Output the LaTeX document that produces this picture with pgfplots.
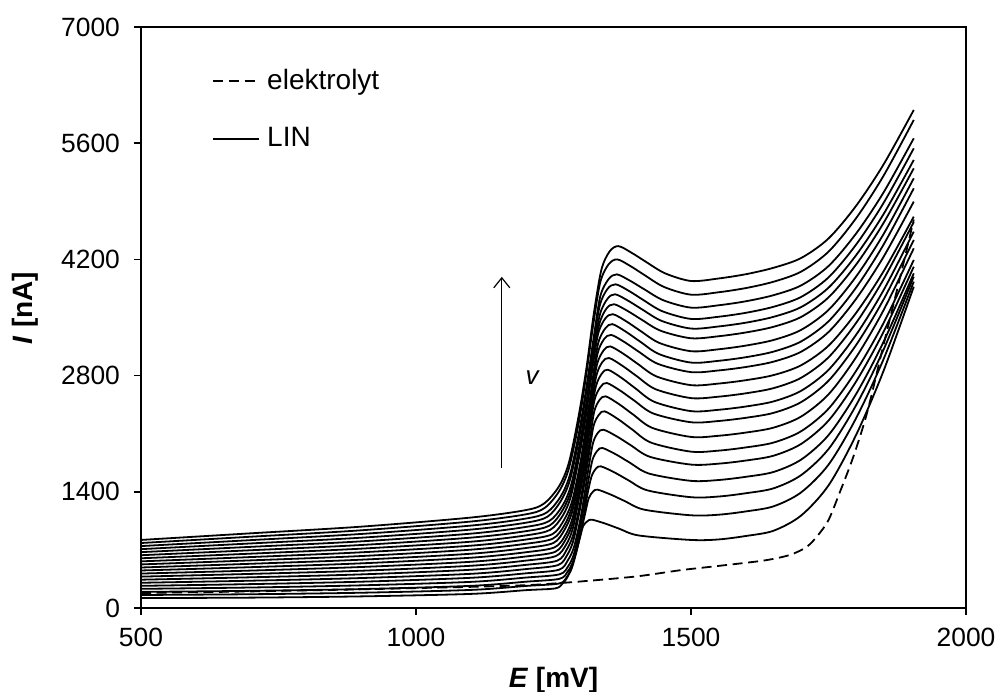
\documentclass[border=0pt]{standalone}
\usepackage{pgfplots}
\pgfplotsset{compat=1.18}
\usepackage{fontspec}
\setmainfont{Liberation Sans}
\usetikzlibrary{arrows.meta}
\begin{document}
\begin{tikzpicture}
\useasboundingbox (-70.5pt,-41.5pt) rectangle (429pt,304pt);
\begin{axis}[
  at={(0,0)}, anchor=south west,
  scale only axis, width=412.5pt, height=290.5pt,
  xmin=500, xmax=2000, ymin=0, ymax=7000,
  xtick={500,1000,1500,2000}, ytick={0,1400,2800,4200,5600,7000},
  tick align=outside, xtick pos=lower, ytick pos=lower,
  major tick length=3.5pt,
  axis line style={line width=0.8pt},
  every tick/.style={line width=0.8pt, black},
  /pgf/number format/assume math mode=true,
  /pgf/number format/set thousands separator={},
  ticklabel style={font=\fontsize{13.2}{15}\selectfont},
  xticklabel style={yshift=-3pt},
  yticklabel style={xshift=-3.5pt},
  xlabel={\textbf{\textit{E} [mV]}}, ylabel={\textbf{\textit{I} [nA]}},
  label style={font=\fontsize{14}{16}\selectfont},
  xlabel style={at={(rel axis cs:0.5,0)}, anchor=base, yshift=-39.5pt},
  ylabel style={at={(rel axis cs:0,0.5)}, anchor=center, yshift=58pt, xshift=4.75pt},
  every axis plot/.append style={black, line width=0.9pt, smooth, mark=none},
  legend style={draw=none, fill=none, at={(rel axis cs:0.0861,0.9277)}, anchor=north west,
    font=\fontsize{14}{16}\selectfont, row sep=17.5pt, column sep=3.5pt, inner sep=0pt,
    nodes={inner sep=0pt}},
  legend cell align=left,
  legend image code/.code={\draw[#1] (0pt,0pt) -- (23pt,0pt);},
]
\addplot[dash pattern=on 5pt off 2.8pt] coordinates {(500,180)(600,190)(700,200)(800,212)(900,225)(1000,240)(1100,255)(1200,275)(1250,295)(1300,320)(1400,380)(1480,455)(1520,485)(1600,545)(1640,580)(1680,640)(1710,735)(1730,870)(1750,1060)(1770,1385)(1795,1820)(1820,2350)(1850,3170)(1880,3980)(1905,4680)};
\addlegendentry{elektrolyt}
\addplot[] coordinates {(500,120)(700,125)(900,140)(1100,170)(1200,215)(1253,236)(1266,291)(1275,368)(1284,521)(1291,673)(1298,843)(1304,988)(1312,1047)(1320,1064)(1345,1015)(1370,954)(1405,874)(1500,820)(1550,826)(1600,868)(1650,931)(1700,1113)(1750,1477)(1800,2083)(1850,2856)(1905,3871)};
\addlegendentry{LIN}
\addplot[forget plot] coordinates {(500,157)(700,166)(900,184)(1100,218)(1200,266)(1260,295)(1274,370)(1283,475)(1292,684)(1299,892)(1307,1124)(1314,1322)(1322,1403)(1330,1426)(1355,1364)(1380,1287)(1415,1185)(1500,1117)(1550,1124)(1600,1164)(1650,1225)(1700,1392)(1750,1727)(1800,2285)(1850,2997)(1905,3932)};
\addplot[forget plot] coordinates {(500,194)(700,207)(900,228)(1100,267)(1200,317)(1261,352)(1276,442)(1286,567)(1296,817)(1304,1068)(1311,1346)(1319,1582)(1327,1679)(1336,1707)(1361,1633)(1386,1540)(1421,1417)(1500,1335)(1550,1343)(1600,1383)(1650,1442)(1700,1600)(1750,1915)(1800,2441)(1850,3111)(1905,3992)};
\addplot[forget plot] coordinates {(500,231)(700,247)(900,273)(1100,315)(1200,367)(1261,406)(1277,507)(1287,648)(1297,929)(1305,1210)(1313,1522)(1321,1788)(1330,1897)(1339,1928)(1364,1849)(1389,1750)(1424,1619)(1500,1532)(1550,1542)(1600,1581)(1650,1639)(1700,1787)(1750,2083)(1800,2576)(1850,3206)(1905,4032)};
\addplot[forget plot] coordinates {(500,267)(700,288)(900,317)(1100,364)(1200,418)(1260,461)(1276,574)(1287,729)(1298,1041)(1306,1352)(1314,1698)(1322,1992)(1331,2113)(1341,2148)(1366,2064)(1391,1959)(1426,1820)(1500,1728)(1550,1739)(1600,1777)(1650,1835)(1700,1976)(1750,2258)(1800,2727)(1850,3326)(1905,4112)};
\addplot[forget plot] coordinates {(500,304)(700,329)(900,361)(1100,412)(1200,469)(1258,517)(1275,640)(1286,811)(1297,1153)(1306,1496)(1315,1876)(1323,2199)(1333,2332)(1343,2370)(1368,2273)(1393,2151)(1428,1991)(1500,1884)(1550,1896)(1600,1935)(1650,1993)(1700,2129)(1750,2401)(1800,2855)(1850,3433)(1905,4193)};
\addplot[forget plot] coordinates {(500,341)(700,370)(900,405)(1100,461)(1200,520)(1257,571)(1274,703)(1286,885)(1298,1251)(1307,1616)(1316,2022)(1324,2367)(1334,2509)(1345,2550)(1370,2452)(1395,2330)(1430,2169)(1500,2061)(1550,2075)(1600,2114)(1650,2173)(1700,2306)(1750,2574)(1800,3019)(1850,3587)(1905,4333)};
\addplot[forget plot] coordinates {(500,378)(700,411)(900,449)(1100,509)(1200,571)(1254,625)(1273,764)(1285,956)(1297,1341)(1307,1727)(1316,2155)(1325,2518)(1336,2668)(1347,2711)(1372,2616)(1397,2498)(1432,2342)(1500,2238)(1550,2253)(1600,2292)(1650,2351)(1700,2480)(1750,2738)(1800,3167)(1850,3715)(1905,4434)};
\addplot[forget plot] coordinates {(500,415)(700,451)(900,494)(1100,557)(1200,621)(1253,677)(1272,824)(1285,1026)(1298,1431)(1307,1836)(1317,2286)(1327,2669)(1338,2826)(1349,2871)(1374,2771)(1399,2646)(1434,2482)(1500,2372)(1550,2388)(1600,2428)(1650,2489)(1700,2616)(1750,2869)(1800,3290)(1850,3828)(1905,4534)};
\addplot[forget plot] coordinates {(500,452)(700,492)(900,538)(1100,606)(1200,672)(1252,731)(1272,883)(1285,1093)(1298,1514)(1308,1936)(1318,2404)(1328,2801)(1339,2965)(1351,3012)(1376,2915)(1401,2795)(1436,2635)(1500,2529)(1550,2546)(1600,2587)(1650,2649)(1700,2773)(1750,3020)(1800,3433)(1850,3959)(1905,4650)};
\addplot[forget plot] coordinates {(500,488)(700,533)(900,582)(1100,654)(1200,723)(1250,784)(1270,942)(1284,1160)(1298,1597)(1308,2035)(1319,2520)(1329,2933)(1341,3103)(1353,3152)(1378,3059)(1403,2942)(1438,2788)(1500,2685)(1550,2704)(1600,2745)(1650,2806)(1700,2924)(1750,3160)(1800,3554)(1850,4056)(1905,4715)};
\addplot[forget plot] coordinates {(500,525)(700,574)(900,626)(1100,703)(1200,774)(1249,837)(1270,1000)(1284,1227)(1298,1680)(1309,2133)(1320,2636)(1330,3064)(1342,3240)(1355,3290)(1380,3200)(1405,3088)(1440,2941)(1500,2842)(1550,2862)(1600,2904)(1650,2968)(1700,3087)(1750,3325)(1800,3723)(1850,4230)(1905,4896)};
\addplot[forget plot] coordinates {(500,562)(700,614)(900,671)(1100,751)(1200,825)(1248,890)(1269,1059)(1284,1292)(1299,1759)(1310,2226)(1321,2745)(1331,3186)(1344,3368)(1357,3420)(1382,3327)(1407,3212)(1442,3059)(1500,2957)(1550,2978)(1600,3022)(1650,3089)(1700,3211)(1750,3454)(1800,3859)(1850,4377)(1905,5056)};
\addplot[forget plot] coordinates {(500,599)(700,655)(900,715)(1100,799)(1200,875)(1244,942)(1267,1115)(1282,1355)(1297,1834)(1309,2314)(1320,2847)(1331,3300)(1344,3487)(1358,3540)(1383,3451)(1408,3339)(1443,3192)(1500,3094)(1550,3117)(1600,3162)(1650,3229)(1700,3350)(1750,3591)(1800,3992)(1850,4504)(1905,5177)};
\addplot[forget plot] coordinates {(500,636)(700,696)(900,759)(1100,848)(1200,926)(1243,994)(1266,1172)(1282,1418)(1298,1910)(1309,2402)(1321,2949)(1333,3414)(1346,3605)(1360,3660)(1385,3578)(1410,3475)(1445,3340)(1500,3250)(1550,3274)(1600,3320)(1650,3388)(1700,3506)(1750,3742)(1800,4136)(1850,4638)(1905,5297)};
\addplot[forget plot] coordinates {(500,673)(700,737)(900,803)(1100,896)(1200,977)(1242,1047)(1266,1229)(1282,1482)(1298,1986)(1310,2491)(1322,3051)(1334,3528)(1348,3724)(1362,3780)(1387,3697)(1412,3594)(1447,3458)(1500,3367)(1550,3392)(1600,3438)(1650,3508)(1700,3625)(1750,3859)(1800,4249)(1850,4745)(1905,5398)};
\addplot[forget plot] coordinates {(500,709)(700,778)(900,847)(1100,945)(1200,1028)(1239,1100)(1263,1286)(1280,1545)(1297,2062)(1309,2579)(1322,3153)(1334,3642)(1348,3843)(1363,3900)(1388,3817)(1413,3712)(1448,3575)(1500,3483)(1550,3509)(1600,3557)(1650,3629)(1700,3747)(1750,3983)(1800,4377)(1850,4879)(1905,5538)};
\addplot[forget plot] coordinates {(500,746)(700,818)(900,892)(1100,993)(1200,1078)(1238,1152)(1263,1343)(1280,1608)(1297,2137)(1310,2667)(1323,3255)(1335,3755)(1350,3961)(1365,4020)(1390,3940)(1415,3840)(1450,3707)(1500,3619)(1550,3647)(1600,3696)(1650,3769)(1700,3886)(1750,4120)(1800,4510)(1850,5006)(1905,5659)};
\addplot[forget plot] coordinates {(500,783)(700,859)(900,936)(1100,1042)(1200,1129)(1234,1206)(1260,1405)(1278,1682)(1296,2235)(1309,2787)(1322,3402)(1335,3924)(1350,4139)(1366,4200)(1391,4115)(1416,4009)(1451,3868)(1500,3775)(1550,3804)(1600,3855)(1650,3931)(1700,4052)(1750,4293)(1800,4695)(1850,5207)(1905,5880)};
\addplot[forget plot] coordinates {(500,820)(700,900)(900,980)(1100,1090)(1200,1180)(1233,1260)(1260,1466)(1278,1752)(1296,2325)(1310,2897)(1323,3533)(1337,4074)(1352,4296)(1368,4360)(1393,4276)(1418,4171)(1453,4032)(1500,3940)(1550,3970)(1600,4022)(1650,4099)(1700,4216)(1750,4452)(1800,4844)(1850,5343)(1905,6000)};
\draw[line width=0.6pt, -{Straight Barb[length=5pt,width=8pt]}] (axis cs:1156,1687) -- (axis cs:1156,3990);
\node[font=\fontsize{13}{15}\selectfont\itshape] at (axis cs:1211,2770) {v};
\end{axis}
\end{tikzpicture}
\end{document}
